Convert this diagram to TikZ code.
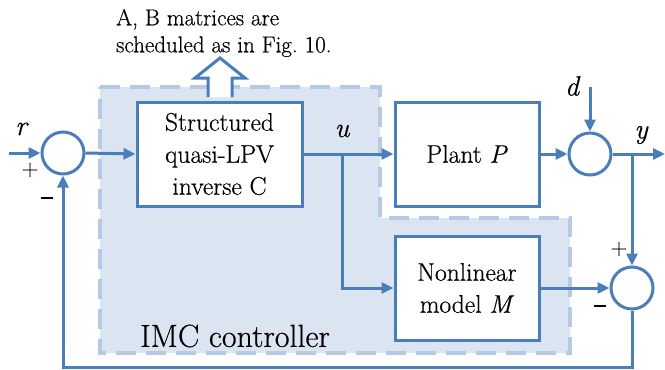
\documentclass[tikz,border=0pt]{standalone}
\usepackage{fontspec}
\setmainfont{Latin Modern Roman}[UprightFeatures={FakeBold=0.5}, ItalicFeatures={FakeBold=0.5}]
\usetikzlibrary{arrows.meta}
\definecolor{lineblue}{RGB}{74,126,187}
\definecolor{zonefill}{RGB}{219,228,241}
\definecolor{zoneedge}{RGB}{182,201,230}
\tikzset{
  x=1pt, y=-1pt,
  wire/.style={draw=lineblue, line width=3pt, -{Triangle[length=12pt,width=11pt]}},
  blockbox/.style={draw=lineblue, line width=3pt, fill=white, rectangle, inner sep=0pt,
    align=center, font=\fontsize{25.5}{32}\selectfont},
  sumnode/.style={draw=lineblue, line width=3pt, fill=white, circle, minimum size=42pt, inner sep=0pt},
  sig/.style={font=\fontsize{28}{30}\selectfont\itshape, inner sep=0pt},
  signmark/.style={font=\fontsize{23}{24}\selectfont, inner sep=0pt}
}
\begin{document}
\begin{tikzpicture}
\useasboundingbox (0,0) rectangle (665,370);
% IMC controller region
\path[fill=zonefill] (100,87) -- (380,87) -- (380,218) -- (570,218) -- (570,353) -- (100,353) -- cycle;
\draw[zoneedge, line width=3.5pt, dash pattern=on 20pt off 10pt]
  (100,87) -- (380,87) -- (380,218) -- (570,218) -- (570,353) -- (100,353) -- cycle;
\node[font=\fontsize{32}{34}\selectfont, inner sep=0pt] (imc) at (235,336) {IMC controller};

% scheduling annotation and hollow arrow
\node[align=left, anchor=west, inner sep=0pt, font=\fontsize{23}{27}\selectfont] (note) at (116,33)
  {A, B matrices are\\scheduled as in Fig.~10.};
\draw[lineblue, line width=3pt, fill=white, line join=miter]
  (208,97) -- (208,78) -- (195,78) -- (220,58) -- (245,78) -- (232,78) -- (232,97);

% blocks
\node[blockbox, minimum width=165pt, minimum height=104pt] (C) at (219.5,154)
  {Structured\\quasi-LPV\\inverse C};
\node[blockbox, minimum width=144pt, minimum height=104pt] (P) at (467,154)
  {Plant \textit{P}};
\node[blockbox, minimum width=144pt, minimum height=104pt] (M) at (467,288)
  {Nonlinear\\model \textit{M}};

% summing junctions
\node[sumnode] (s1) at (63,153) {};
\node[sumnode] (s2) at (590,154) {};
\node[sumnode] (s3) at (632,288) {};

% free ends and branch points
\coordinate (rin) at (9,153);
\coordinate (yout) at (665,154);
\coordinate (din) at (590,87);
\coordinate (ub) at (342,154);
\coordinate (yb) at (632,154);

% connectors
\draw[wire] (rin) -- (s1.west);
\draw[wire] (s1.east) -- (C.west);
\draw[wire] (C.east) -- (P.west);
\draw[wire] (ub) |- (M.west);
\draw[wire] (P.east) -- (s2.west);
\draw[wire] (din) -- (s2.north);
\draw[wire] (s2.east) -- (yout);
\draw[wire] (yb) -- (s3.north);
\draw[wire] (M.east |- s3) -- (s3.west);
\draw[wire, line join=miter] (s3.south) -- (632,367) -- (63,367) -- (s1.south);

% signal labels
\node[sig] (rl) at (21,129) {r};
\node[sig] (ul) at (342,131) {u};
\node[sig] (dl) at (572,86) {d};
\node[sig] (yl) at (641,135) {y};
\node[signmark] (p1) at (30,170) {+};
\node[signmark] (m1) at (47,198) {\rule{12pt}{2.5pt}};
\node[signmark] (p2) at (619,249) {+};
\node[signmark] (m2) at (600,306) {\rule{12pt}{2.5pt}};
\end{tikzpicture}
\end{document}
